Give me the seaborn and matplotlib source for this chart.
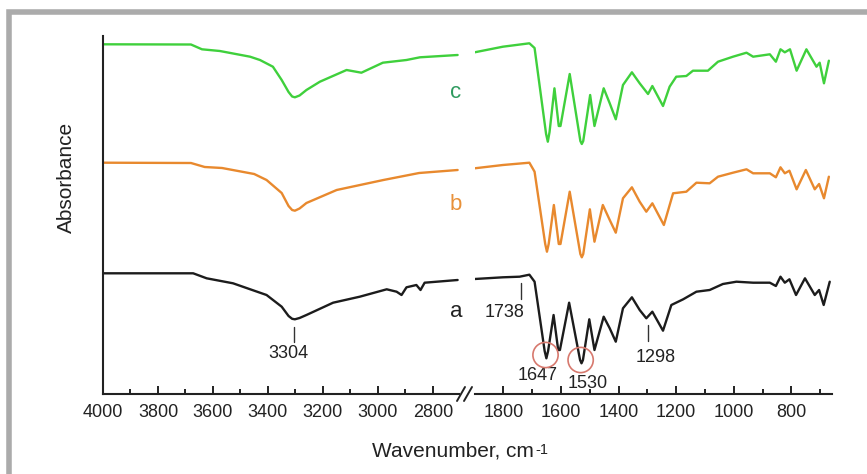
import numpy as np
import pandas as pd
import matplotlib
matplotlib.use("Agg")
import matplotlib.pyplot as plt
from matplotlib.patches import Rectangle
from matplotlib.lines import Line2D
from matplotlib.ticker import MultipleLocator
import seaborn as sns

# ---------------- data (absorbance, arbitrary offset units) ----------------
# high-wavenumber segment (4000-2710 cm-1)
wn_hi_c = [4000, 3680, 3640, 3575, 3465, 3429, 3382, 3350, 3325, 3312, 3302, 3285, 3260, 3211, 3114, 3060, 2982, 2896, 2847, 2710]
abs_hi_c = [3.497, 3.495, 3.447, 3.43, 3.373, 3.34, 3.273, 3.14, 3.02, 2.975, 2.967, 2.985, 3.04, 3.123, 3.24, 3.213, 3.313, 3.34, 3.367, 3.39]

wn_hi_b = [4000, 3680, 3630, 3567, 3450, 3405, 3350, 3325, 3312, 3302, 3285, 3260, 3150, 2980, 2850, 2710]
abs_hi_b = [2.313, 2.31, 2.27, 2.26, 2.20, 2.14, 2.01, 1.88, 1.84, 1.833, 1.855, 1.91, 2.04, 2.14, 2.21, 2.24]

wn_hi_a = [4000, 3672, 3623, 3527, 3405, 3350, 3325, 3312, 3302, 3285, 3260, 3163, 3066, 2968, 2932, 2914, 2896, 2860, 2845, 2830, 2710]
abs_hi_a = [1.207, 1.207, 1.157, 1.107, 0.99, 0.873, 0.78, 0.752, 0.747, 0.76, 0.79, 0.913, 0.973, 1.047, 1.023, 0.99, 1.067, 1.09, 1.04, 1.113, 1.14]

# fingerprint segment (1900-667 cm-1)
wn_lo_c = [1900, 1802, 1710, 1692, 1652, 1646, 1640, 1623, 1608, 1602, 1570, 1533, 1528, 1523, 1499, 1484,
           1452, 1431, 1410, 1385, 1354, 1327, 1298, 1283, 1246, 1223, 1200, 1165, 1142, 1090, 1055, 1003, 956, 933,
           875, 854, 838, 823, 805, 782, 748, 713, 702, 687, 670]
abs_lo_c = [3.417, 3.473, 3.507, 3.46, 2.60, 2.523, 2.62, 3.057, 2.68, 2.68, 3.20, 2.53, 2.50, 2.53, 2.99, 2.68,
            3.057, 2.907, 2.747, 3.09, 3.217, 3.107, 3.00, 3.08, 2.88, 3.073, 3.173, 3.18, 3.233, 3.233, 3.323, 3.373, 3.413, 3.373,
            3.397, 3.323, 3.447, 3.417, 3.447, 3.233, 3.447, 3.273, 3.313, 3.107, 3.333]

wn_lo_b = [1900, 1802, 1710, 1692, 1655, 1649, 1643, 1625, 1608, 1602, 1570, 1533, 1528, 1523, 1500, 1484,
           1455, 1431, 1410, 1385, 1354, 1327, 1304, 1283, 1243, 1211, 1165, 1130, 1084, 1055, 1003, 956, 933,
           875, 854, 838, 823, 807, 782, 750, 719, 704, 687, 670]
abs_lo_b = [2.257, 2.29, 2.313, 2.223, 1.50, 1.423, 1.50, 1.89, 1.50, 1.50, 2.023, 1.40, 1.367, 1.40, 1.847, 1.523,
            1.89, 1.74, 1.613, 1.957, 2.067, 1.923, 1.823, 1.907, 1.69, 2.007, 2.023, 2.113, 2.107, 2.173, 2.213, 2.247, 2.207,
            2.207, 2.167, 2.267, 2.207, 2.233, 2.047, 2.24, 2.047, 2.10, 1.957, 2.173]

wn_lo_a = [1900, 1802, 1744, 1710, 1692, 1657, 1651, 1645, 1626, 1610, 1604, 1572, 1534, 1529, 1524, 1502, 1484,
           1452, 1431, 1410, 1385, 1354, 1327, 1304, 1283, 1246, 1217, 1176, 1130, 1084, 1038, 991, 933, 875, 854, 838,
           823, 807, 784, 753, 719, 704, 688, 667]
abs_lo_a = [1.15, 1.167, 1.173, 1.193, 1.123, 0.43, 0.357, 0.43, 0.79, 0.44, 0.44, 0.913, 0.34, 0.307, 0.34, 0.747, 0.44,
            0.773, 0.657, 0.523, 0.857, 0.967, 0.84, 0.757, 0.823, 0.633, 0.89, 0.947, 1.023, 1.04, 1.10, 1.123, 1.113, 1.113, 1.08, 1.173,
            1.113, 1.147, 0.99, 1.157, 0.99, 1.04, 0.89, 1.123]

series_names = ["a", "b", "c"]
series_colors = {"a": "#1c1c1c", "b": "#e8892e", "c": "#3fd03c"}
label_colors = {"a": "#222222", "b": "#e8913a", "c": "#2e9a5e"}
label_y = {"a": 0.823, "b": 1.90, "c": 3.02}
label_wn = 2716

peak_hi = [3304]
peak_lo = [1738, 1298]
circled_wn = [1654, 1532]
circled_abs = [0.39, 0.34]

hi_ticks = [4000, 3800, 3600, 3400, 3200, 3000, 2800]
lo_ticks = [1800, 1600, 1400, 1200, 1000, 800]

# ---------------- build tables ----------------
def table(pairs):
    rows = []
    for name, (w, a) in pairs.items():
        rows.append(pd.DataFrame({"wn": w, "A": a, "sample": name}))
    return pd.concat(rows, ignore_index=True)

df_hi = table({"a": (wn_hi_a, abs_hi_a), "b": (wn_hi_b, abs_hi_b), "c": (wn_hi_c, abs_hi_c)})
df_lo = table({"a": (wn_lo_a, abs_lo_a), "b": (wn_lo_b, abs_lo_b), "c": (wn_lo_c, abs_lo_c)})

sns.set_theme(style="white")
plt.rcParams["font.family"] = ["Liberation Sans", "DejaVu Sans"]

W, H = 867, 474
fig = plt.figure(figsize=(W / 100, H / 100), dpi=100)

y0 = 1 - 394 / H
hgt = (394 - 36) / H
ax1 = fig.add_axes([103 / W, y0, (459 - 103) / W, hgt])
ax2 = fig.add_axes([475.25 / W, y0, 356.5 / W, hgt])

for ax, df in ((ax1, df_hi), (ax2, df_lo)):
    sns.lineplot(data=df, x="wn", y="A", hue="sample", palette=series_colors, hue_order=series_names,
                 estimator=None, sort=False, ax=ax, legend=False, linewidth=1.7)
    for ln in ax.lines:
        ln.set_solid_joinstyle("round")
        ln.set_solid_capstyle("round")
    ax.set_ylim(0, 3.58)
    ax.set_xlabel("")
    ax.set_ylabel("")
    ax.set_yticks([])
    ax.set_facecolor("none")
    for s in ("top", "right"):
        ax.spines[s].set_visible(False)
    ax.spines["bottom"].set_color("#222222")
    ax.spines["bottom"].set_linewidth(1.5)
    ax.xaxis.set_minor_locator(MultipleLocator(100))
    ax.tick_params(axis="x", which="major", direction="in", length=6, width=1.4, color="#222222",
                   labelsize=13, labelcolor="#222222", pad=7, bottom=True)
    ax.tick_params(axis="x", which="minor", direction="in", length=3.5, width=1.4, color="#222222", bottom=True)

ax1.set_xlim(4000, 2705)
ax2.set_xlim(1898, 660)
ax1.set_xticks(hi_ticks)
ax2.set_xticks(lo_ticks)
ax1.spines["left"].set_color("#222222")
ax1.spines["left"].set_linewidth(1.5)
ax2.spines["left"].set_visible(False)

# sample labels
for name in series_names:
    ax1.text(label_wn, label_y[name], name, color=label_colors[name], fontsize=16,
             ha="center", va="center", clip_on=False)

# peak markers
mk = dict(color="#333333", lw=1.0)
ax1.plot([peak_hi[0], peak_hi[0]], [0.67, 0.525], **mk)
ax1.text(3324, 0.41, "3304", fontsize=13, ha="center", va="center", color="#222222")
ax2.plot([peak_lo[0], peak_lo[0]], [1.11, 0.95], **mk)
ax2.text(1797, 0.815, "1738", fontsize=13, ha="center", va="center", color="#222222")
ax2.plot([peak_lo[1], peak_lo[1]], [0.69, 0.53], **mk)
ax2.text(1271, 0.37, "1298", fontsize=13, ha="center", va="center", color="#222222")
ax2.text(1682, 0.19, "1647", fontsize=13, ha="center", va="center", color="#222222")
ax2.text(1508, 0.11, "1530", fontsize=13, ha="center", va="center", color="#222222")

sns.scatterplot(x=circled_wn, y=circled_abs, ax=ax2, s=330, facecolors="none",
                edgecolor="#d7796e", linewidth=1.2, legend=False, zorder=5)

# axis break marks
for x_a, x_b in ((457, 465), (464, 472)):
    fig.add_artist(Line2D([x_a / W, x_b / W], [1 - 401 / H, 1 - 387 / H], color="#222222", lw=1.4))

# axis titles
fig.text(66 / W, 1 - 177 / H, "Absorbance", rotation=90, fontsize=15, ha="center", va="center", color="#222222")
xl = fig.text(453 / W, 1 - 451 / H, "Wavenumber, cm", fontsize=15, ha="center", va="center", color="#222222")
fig.canvas.draw()
bb = xl.get_window_extent(renderer=fig.canvas.get_renderer())
fig.text((bb.x1 + 1) / W, (bb.y1 - 1) / H, "-1", fontsize=10.5, ha="left", va="top", color="#222222")

# gray frame
fig.add_artist(Rectangle((8.8 / W, -0.1), 2, (1 - 12.5 / H) + 0.1, transform=fig.transFigure,
                         fill=False, edgecolor="#ababab", lw=4))

fig.savefig("out.png", dpi=100)
